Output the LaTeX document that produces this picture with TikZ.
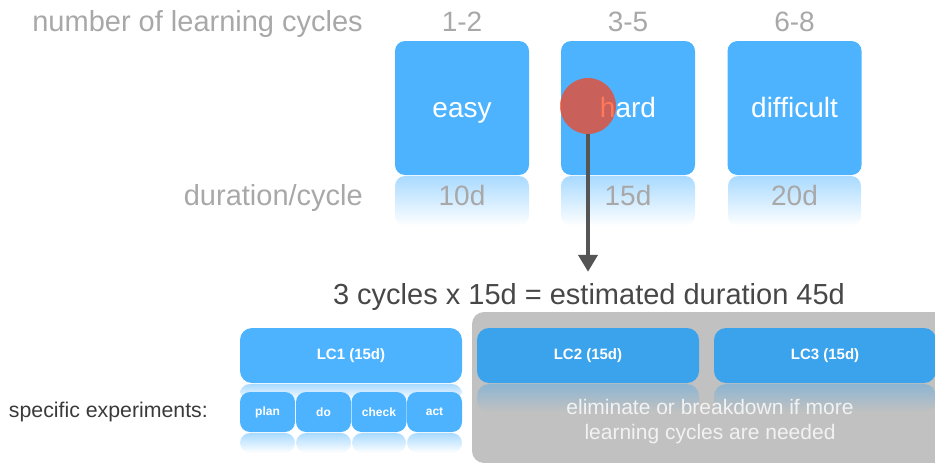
\documentclass[tikz,border=0pt]{standalone}
\usepackage{fontspec}
\setmainfont{Liberation Sans}
\usetikzlibrary{arrows.meta}
\definecolor{boxblue}{HTML}{4DB3FF}
\definecolor{darkblue}{HTML}{3BA2EC}
\definecolor{reflblue}{HTML}{A9DAFF}
\definecolor{refldark}{HTML}{8EB5D2}
\definecolor{labelgray}{HTML}{A8A8A8}
\definecolor{panelgray}{HTML}{C0C1C0}
\definecolor{dotred}{HTML}{FF3F14}
\definecolor{arrowgray}{HTML}{555555}
\definecolor{textdark}{HTML}{474747}
\definecolor{sidetext}{HTML}{3A3A3A}
\definecolor{paneltext}{HTML}{F2F2F2}
\begin{document}
\begin{tikzpicture}[x=1pt,y=-1pt,
  levelbox/.style={fill=boxblue, rounded corners=10pt, minimum width=134pt, minimum height=134pt, inner sep=0pt, text height=21pt, text depth=3pt, text=white, font=\fontsize{28}{30}\selectfont},
  toplabel/.style={text=labelgray, inner sep=0pt, anchor=base, font=\fontsize{28}{30}\selectfont},
  sidelabel/.style={text=labelgray, inner sep=0pt, anchor=base east, font=\fontsize{29}{31}\selectfont},
  lcbox/.style={rounded corners=12pt, minimum width=222pt, minimum height=55pt, inner sep=0pt, text=white, font=\bfseries\fontsize{15}{17}\selectfont},
  stepbox/.style={fill=boxblue, rounded corners=10pt, minimum width=55pt, minimum height=40pt, inner sep=0pt, text=white, font=\bfseries\fontsize{12}{14}\selectfont},
  reflect/.style={top color=reflblue, bottom color=white, rounded corners=10pt},
  reflectgray/.style={top color=refldark, bottom color=panelgray, rounded corners=12pt},
]
\useasboundingbox (0,0) rectangle (935,463);

% labels on the left
\node[sidelabel] (ncyc) at (363,31) {number of learning cycles};
\node[sidelabel] (dur) at (363,205) {duration/cycle};

% cycle counts
\node[toplabel] (c1) at (462,31) {1-2};
\node[toplabel] (c2) at (628,31) {3-5};
\node[toplabel] (c3) at (794.5,31) {6-8};

% reflections of the level boxes
\shade[reflect] (395,176) rectangle (529,226);
\shade[reflect] (561,176) rectangle (695,226);
\shade[reflect] (728,176) rectangle (861,226);

% level boxes
\node[levelbox] (easy) at (462,108) {easy};
\node[levelbox] (hard) at (628,108) {hard};
\node[levelbox] (difficult) at (794.5,108) {difficult};

% durations
\node[toplabel] (d1) at (462,205) {10d};
\node[toplabel] (d2) at (628,205) {15d};
\node[toplabel] (d3) at (794.5,205) {20d};

% selection marker
\node[circle, fill=dotred, fill opacity=0.7, minimum size=56pt, inner sep=0pt] (dot) at (588,106) {};

% formula
\node[anchor=base, inner sep=0pt, text=textdark, font=\fontsize{29}{31}\selectfont] (formula) at (589,304) {3 cycles x 15d = estimated duration 45d};

\draw[arrowgray, line width=4pt, shorten >=11pt, -{Triangle[length=17pt,width=19pt]}] (dot.south) -- (dot.south |- formula.north);

% gray panel
\fill[panelgray, rounded corners=12pt] (472,312) rectangle (960,463);
\shade[reflectgray] (477,384) rectangle (699,412);
\shade[reflectgray] (714,384) rectangle (936,412);
\node[lcbox, fill=darkblue] (lc2) at (588,355.5) {LC2 (15d)};
\node[lcbox, fill=darkblue] (lc3) at (825,355.5) {LC3 (15d)};
\node[align=center, inner sep=0pt, text=paneltext, font=\fontsize{21}{25}\selectfont] (elim) at (710,422) {eliminate or breakdown if more\\learning cycles are needed};

% LC1 and its steps
\shade[reflect] (240,384) rectangle (462,400);
\node[lcbox, fill=boxblue] (lc1) at (351,355.5) {LC1 (15d)};
\shade[reflect] (240,433) rectangle (295,453);
\shade[reflect] (296,433) rectangle (351,453);
\shade[reflect] (352,433) rectangle (406,453);
\shade[reflect] (407,433) rectangle (462,453);
\node[stepbox] (plan) at (267.5,412) {plan};
\node[stepbox] (do) at (323.5,412) {do};
\node[stepbox] (check) at (379,412) {check};
\node[stepbox] (act) at (434.5,412) {act};

\node[anchor=east, inner sep=0pt, text=sidetext, font=\fontsize{21.3}{23}\selectfont] (spec) at (208,412) {specific experiments:};
\end{tikzpicture}
\end{document}
